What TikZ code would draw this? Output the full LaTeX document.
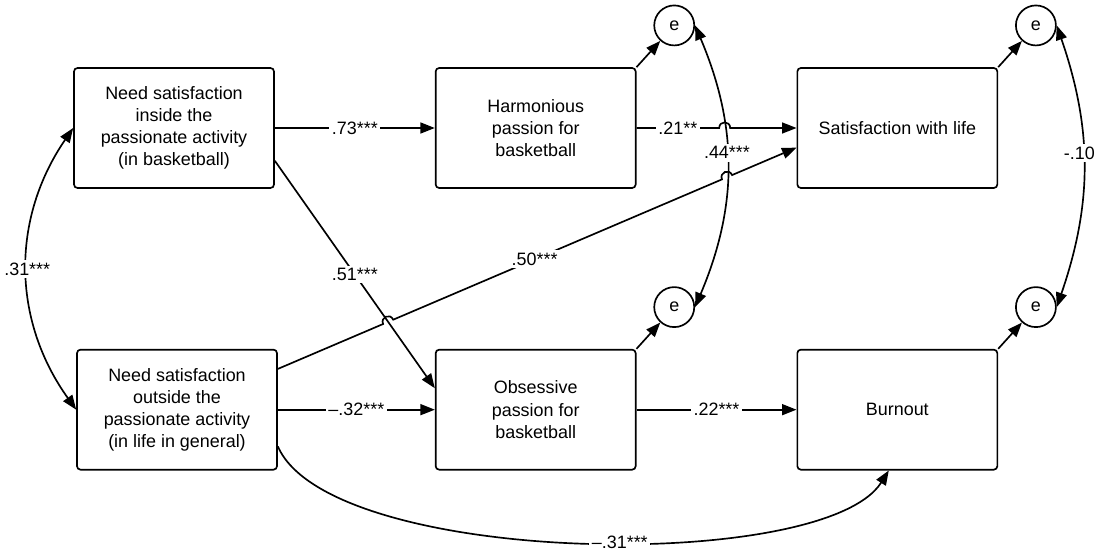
\documentclass[tikz,border=0pt]{standalone}
\usepackage{fontspec}
\setmainfont{Liberation Sans}
\usetikzlibrary{arrows.meta,positioning,calc,intersections}
\def\boxw{4cm}
\def\boxh{2.4cm}
\def\boxsep{3.2cm}
\def\jumpr{0.11cm}
\def\jumph{0.15cm}

\begin{document}
\begin{tikzpicture}[line width=0.95pt,
    myarrow/.style={-{Triangle[length=0.29cm,width=0.22cm]}},
    dblarrow/.style={{Triangle[length=0.29cm,width=0.22cm]}-{Triangle[length=0.29cm,width=0.22cm]}}]
    \tikzstyle{block}=[rectangle,draw=black,rounded corners=2pt,minimum width=\boxw,minimum height=\boxh,align=center,inner sep=2pt,node distance=\boxsep and \boxsep]
    \tikzstyle{err}=[circle,draw=black,minimum size=0.8cm,inner sep=0pt]
    \tikzstyle{coef}=[fill=white,inner sep=1.5pt]

    \fontsize{10.2}{12.6}\selectfont
    \useasboundingbox (0,0) rectangle (22.02,-11);

    % Draw the nodes
    \node[block] (NSI) at (3.48,-2.56) {Need satisfaction\\inside the\\passionate activity\\(in basketball)};
    \node[block, below=of NSI, xshift=0.06cm] (NSO) {Need satisfaction\\outside the\\passionate activity\\(in life in general)};
    \node[block, right=of NSI] (HP) {Harmonious\\passion for\\basketball};
    \node[block, below=of HP] (OP) {Obsessive\\passion for\\basketball};
    \node[block, right=of HP] (SWL) {Satisfaction with life};
    \node[block, below=of SWL] (BO) {Burnout};

    \foreach \src/\name in {HP/eH,SWL/eS,OP/eO,BO/eB}
        \node[err, above right=0.54cm and 0.46cm of \src.north east] (\name) {e};

    % Crossings that get a jump
    \path[name path=c44] (eH.east) to[bend left=23] (eO.east);
    \path[name path=l21] (HP.east) -- (SWL.west);
    \path[name path=l50] (NSO.22) -- (SWL.191);
    \path[name path=l51] (NSI.-18) -- (OP.168);
    \path[name intersections={of=c44 and l21,by=j1}];
    \path[name intersections={of=c44 and l50,by=j2}];
    \path[name intersections={of=l51 and l50,by=j3}];
    \foreach \j/\beg/\fin in {j1/HP.east/SWL.west,j2/NSO.22/SWL.191,j3/NSO.22/SWL.191} {
        \coordinate (\j a) at ($(\j)!\jumpr!(\beg)$);
        \coordinate (\j b) at ($(\j)!\jumpr!(\fin)$);
    }

    % Connect every node
    \foreach \src/\name in {HP/eH,SWL/eS,OP/eO,BO/eB}
        \draw[myarrow] (\src.north east) -- (\name);

    \draw[myarrow] (NSI) -- node[coef] {.73***} (HP);
    \draw[myarrow] (NSO) -- node[coef] {\textendash.32***} (OP);
    \draw[myarrow] (OP) -- node[coef] {.22***} (BO);
    \draw[myarrow] (NSI.-18) -- node[coef] {.51***} (OP.168);

    \draw[myarrow] (HP.east) -- node[coef] {.21**} (j1a)
        .. controls ($(j1a)!\jumph!90:(j1b)$) and ($(j1b)!\jumph!-90:(j1a)$) .. (j1b) -- (SWL.west);
    \draw[myarrow] (NSO.22) -- (j3a)
        .. controls ($(j3a)!\jumph!90:(j3b)$) and ($(j3b)!\jumph!-90:(j3a)$) .. (j3b)
        -- node[coef, pos=0.43] {.50***} (j2a)
        .. controls ($(j2a)!\jumph!90:(j2b)$) and ($(j2b)!\jumph!-90:(j2a)$) .. (j2b) -- (SWL.191);

    \draw[myarrow] (NSO.-20) .. controls +(1.04,-2.4) and +(-1.3,-2.06) .. (BO.-98)
        node[coef, pos=0.55] {\textendash.31***};

    \draw[dblarrow] (NSI.west) to[bend right=35] node[coef] {.31***} (NSO.west);
    \draw[dblarrow] (eH.east) to[bend left=23] node[coef, pos=0.45] {.44***} (eO.east);
    \draw[dblarrow] (eS.east) to[bend left=19] node[coef, pos=0.45, xshift=-0.08cm] {-.10} (eB.east);
\end{tikzpicture}
\end{document}
